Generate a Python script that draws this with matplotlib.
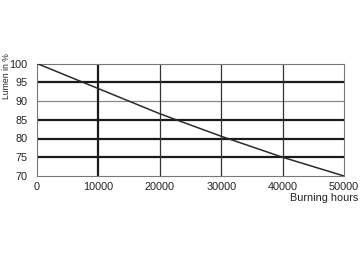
import matplotlib
matplotlib.use("Agg")
import matplotlib.pyplot as plt
from matplotlib import font_manager

hours = [0, 10000, 20000, 30000, 40000, 50000]
lumen = [100, 93.3, 86.6, 80.6, 75, 70]
x_ticks = [0, 10000, 20000, 30000, 40000, 50000]
y_ticks = [70, 75, 80, 85, 90, 95, 100]

plt.rcParams['font.family'] = ['Liberation Sans', 'DejaVu Sans']
names = {f.name for f in font_manager.fontManager.ttflist}
narrow = 'Liberation Sans Narrow' in names

fig = plt.figure(figsize=(3.6, 2.62), dpi=100)
ax = fig.add_axes([37/360, 1-176/262, (344-37)/360, (176-63.5)/262])

# grid lines
thick_h = [75, 80, 85, 95]
thin_h = [90]
for y in thick_h:
    ax.axhline(y, color='#1a1a1a', lw=1.6, zorder=1)
for y in thin_h:
    ax.axhline(y, color='#888888', lw=0.9, zorder=1)
ax.axvline(10000, color='#1a1a1a', lw=1.6, zorder=1)
for x in [20000, 30000, 40000]:
    ax.axvline(x, color='#333333', lw=0.9, zorder=1)

ax.plot(hours, lumen, color='#2a2a2a', lw=1.1, zorder=3)

ax.set_xlim(0, 50000)
ax.set_ylim(70, 100)
ax.set_xticks(x_ticks)
ax.set_yticks(y_ticks)
ax.tick_params(length=0, labelsize=7.8, colors='#222222', pad=4)
ax.tick_params(axis='y', pad=7)
for s in ax.spines.values():
    s.set_color('#777777')
    s.set_linewidth(0.8)

if narrow:
    fig.text(6.5/360, 1-76/262, 'Lumen in %', rotation=90, ha='center', va='center',
             fontsize=7.0, color='#222222', family=['Liberation Sans Narrow', 'DejaVu Sans'])
else:
    fig.text(6.5/360, 1-76/262, 'Lumen in %', rotation=90, ha='center', va='center',
             fontsize=6.2, color='#222222')
fig.text(358/360, 1-198/262, 'Burning hours', ha='right', va='center', fontsize=7.8, color='#222222')

fig.savefig('out.png', dpi=100, facecolor='white')
